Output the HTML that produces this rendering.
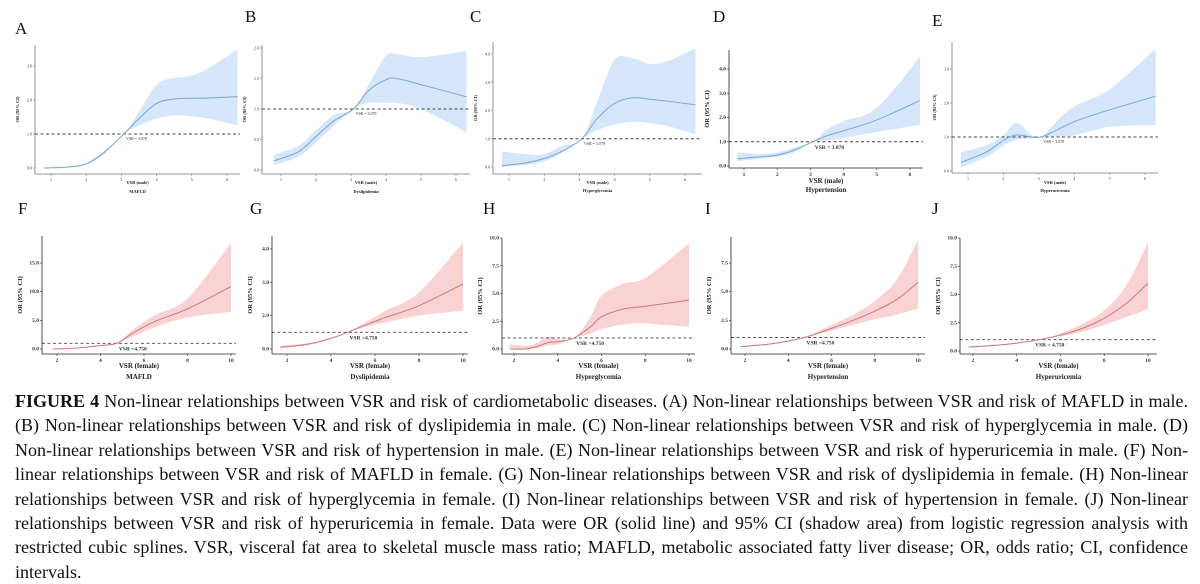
<!DOCTYPE html>
<html><head><meta charset="utf-8">
<style>
html,body{margin:0;padding:0;background:#fff;width:1200px;height:584px;overflow:hidden;}
svg{position:absolute;left:0;top:0;}
#caption{position:absolute;left:15px;top:389px;width:1173px;font-family:"Liberation Serif",serif;font-size:18px;line-height:24.4px;color:#111;}
#caption div{text-align:justify;text-align-last:justify;white-space:nowrap;}
#caption div.last{text-align-last:left;}
</style></head>
<body>
<svg id="fig" width="1200" height="390" viewBox="0 0 1200 390"></svg>
<div id="caption">
<div><b>FIGURE 4</b> Non-linear relationships between VSR and risk of cardiometabolic diseases. (A) Non-linear relationships between VSR and risk of MAFLD in male.</div>
<div>(B) Non-linear relationships between VSR and risk of dyslipidemia in male. (C) Non-linear relationships between VSR and risk of hyperglycemia in male. (D)</div>
<div>Non-linear relationships between VSR and risk of hypertension in male. (E) Non-linear relationships between VSR and risk of hyperuricemia in male. (F) Non-</div>
<div>linear relationships between VSR and risk of MAFLD in female. (G) Non-linear relationships between VSR and risk of dyslipidemia in female. (H) Non-linear</div>
<div>relationships between VSR and risk of hyperglycemia in female. (I) Non-linear relationships between VSR and risk of hypertension in female. (J) Non-linear</div>
<div>relationships between VSR and risk of hyperuricemia in female. Data were OR (solid line) and 95% CI (shadow area) from logistic regression analysis with</div>
<div>restricted cubic splines. VSR, visceral fat area to skeletal muscle mass ratio; MAFLD, metabolic associated fatty liver disease; OR, odds ratio; CI, confidence</div>
<div class="last">intervals.</div>
</div>
<script>
// ---- data arrays ----
const aX=[0.8,1.5,2,2.5,3.07,3.5,4,4.5,5,5.5,6.3];
const aY=[0,0.03,0.12,0.45,1.0,1.45,1.9,2.03,2.05,2.06,2.1];
const aLo=[0,0.02,0.1,0.4,1.0,1.25,1.45,1.55,1.52,1.45,1.25];
const aHi=[0,0.04,0.14,0.5,1.0,1.65,2.45,2.65,2.72,2.95,3.5];
const bX=[0.8,1.5,2,2.5,3.07,3.5,4,4.3,5,6.3];
const bY=[0.15,0.3,0.55,0.8,1.0,1.3,1.48,1.5,1.4,1.2];
const bLo=[0.08,0.22,0.45,0.72,1.0,1.1,1.1,1.1,1.0,0.62];
const bHi=[0.25,0.4,0.65,0.9,1.0,1.4,1.87,1.9,1.85,1.95];
const cX=[0.8,1.5,2,2.5,3.07,3.5,4,4.5,5,5.5,6.3];
const cY=[0.05,0.15,0.3,0.55,1.0,1.7,2.25,2.45,2.4,2.33,2.2];
const cLo=[0.0,0.08,0.2,0.5,1.0,1.3,1.5,1.6,1.55,1.45,1.15];
const cHi=[0.55,0.45,0.45,0.75,1.0,2.3,3.8,3.85,3.65,3.75,4.2];
const dX=[0.8,1.5,2,2.5,3.07,3.5,4,5,6.3];
const dY=[0.3,0.38,0.45,0.65,1.0,1.25,1.45,1.9,2.7];
const dLo=[0.2,0.3,0.38,0.55,1.0,1.05,1.15,1.4,1.7];
const dHi=[0.55,0.5,0.55,0.75,1.0,1.5,1.85,2.4,4.5];
const eX=[0.8,1.5,2,2.3,2.5,2.8,3.07,3.5,4,5,6.3];
const eY=[0.25,0.55,0.9,1.05,1.05,1.0,1.0,1.2,1.45,1.8,2.2];
const eLo=[0.1,0.4,0.75,0.9,0.95,0.97,1.0,1.02,1.05,1.3,1.35];
const eHi=[0.55,0.75,1.05,1.4,1.35,1.05,1.0,1.45,1.9,2.4,3.6];
const fX=[1.8,3,4,4.75,5.5,6.5,8,10];
const fY=[0,0.2,0.6,1.0,2.8,4.8,7.0,10.9];
const fLo=[0,0.15,0.5,1.0,2.2,3.8,5.5,6.5];
const fHi=[0,0.25,0.7,1.0,3.4,5.9,8.8,18.5];
const gX=[1.7,3,4,4.75,5.5,6.5,8,10];
const gY=[1.05,1.15,1.32,1.5,1.7,1.95,2.3,2.95];
const gLo=[1.02,1.12,1.3,1.5,1.65,1.8,2.0,2.15];
const gHi=[1.1,1.18,1.35,1.5,1.78,2.15,2.7,4.2];
const hX=[1.8,2.5,3,3.6,4,4.75,5.5,6,7,8,10];
const hY=[0,0,0.2,0.6,0.65,1.0,2.0,2.9,3.6,3.85,4.4];
const hLo=[0.1,0,0.05,0.35,0.4,1.0,1.4,1.8,2.2,2.3,2.0];
const hHi=[0.4,0.3,0.5,1.1,0.9,1.0,2.9,4.8,5.9,6.4,9.5];
const iX=[1.8,3,4,4.75,6,7,8,9,10];
const iY=[0.2,0.4,0.7,1.0,1.8,2.5,3.3,4.3,5.8];
const iLo=[0.15,0.35,0.65,1.0,1.6,2.1,2.6,3.0,3.5];
const iHi=[0.25,0.45,0.75,1.0,2.1,3.0,4.2,6.0,9.5];
const jX=[1.8,3,4,5,6,7,8,9,10];
const jY=[0.35,0.5,0.7,1.0,1.4,2.0,2.9,4.2,6.0];
const jLo=[0.3,0.45,0.65,1.0,1.3,1.7,2.3,3.0,3.7];
const jHi=[0.4,0.55,0.75,1.0,1.55,2.4,3.6,5.8,9.6];
const maleXTicks=[1,2,3,4,5,6];
const femaleXTicks=[2,4,6,8,10];

// ---- layout (pixel calibration per panel) ----
const panels=[
 {id:'a',L:'A',lx:15,ly:34,ax:35,ab:174,top:45,right:240,x0:1,px0:51,x1:6,px1:227,v0:0,py0:168,v1:3,py1:66,yt:[0,1,2,3],ytl:['0.0','1.0','2.0','3.0'],xt:maleXTicks,ref:1,refTxt:'VSR = 3.078',rx:3.07,X:aX,Y:aY,Lo:aLo,Hi:aHi,sex:'male',dis:'MAFLD',bold:false,t1:184,t2:193},
 {id:'b',L:'B',lx:245,ly:22,ax:262,ab:174,top:45,right:470,x0:1,px0:281,x1:6,px1:456,v0:0,py0:170,v1:2,py1:48,yt:[0,0.5,1,1.5,2],ytl:['0.0','0.5','1.0','1.5','2.0'],xt:maleXTicks,ref:1,refTxt:'VSR = 3.078',rx:3.07,X:bX,Y:bY,Lo:bLo,Hi:bHi,sex:'male',dis:'Dyslipidemia',bold:false,t1:184,t2:193},
 {id:'c',L:'C',lx:470,ly:22,ax:493,ab:174,top:42,right:702,x0:1,px0:509,x1:6,px1:685,v0:0,py0:167,v1:4,py1:54,yt:[0,1,2,3,4],ytl:['0.0','1.0','2.0','3.0','4.0'],xt:maleXTicks,ref:1,refTxt:'VSR = 3.078',rx:3.07,X:cX,Y:cY,Lo:cLo,Hi:cHi,sex:'male',dis:'Hyperglycemia',bold:false,t1:184,t2:192},
 {id:'d',L:'D',lx:713,ly:22,ax:729,ab:168,top:50,right:923,x0:1,px0:744,x1:6,px1:910,v0:0,py0:166,v1:4,py1:69,yt:[0,1,2,3,4],ytl:['0.0','1.0','2.0','3.0','4.0'],xt:maleXTicks,ref:1,refTxt:'VSR = 3.078',rx:3.07,X:dX,Y:dY,Lo:dLo,Hi:dHi,sex:'male',dis:'Hypertension',bold:true,t1:183,t2:192},
 {id:'e',L:'E',lx:932,ly:26,ax:952,ab:173,top:42,right:1158,x0:1,px0:968,x1:6,px1:1145,v0:0,py0:171,v1:3,py1:69,yt:[0,1,2,3],ytl:['0.0','1.0','2.0','3.0'],xt:maleXTicks,ref:1,refTxt:'VSR = 3.078',rx:3.07,X:eX,Y:eY,Lo:eLo,Hi:eHi,sex:'male',dis:'Hyperuricemia',bold:false,t1:184,t2:192},
 {id:'f',L:'F',lx:18,ly:214,ax:42,ab:354,top:236,right:236,x0:2,px0:57,x1:10,px1:231,v0:0,py0:349,v1:15,py1:263,yt:[0,5,10,15],ytl:['0.0','5.0','10.0','15.0'],xt:femaleXTicks,ref:1,refTxt:'VSR =4.750',rx:4.75,X:fX,Y:fY,Lo:fLo,Hi:fHi,sex:'female',dis:'MAFLD',bold:true,t1:368,t2:379},
 {id:'g',L:'G',lx:250,ly:214,ax:272,ab:354,top:236,right:468,x0:2,px0:287,x1:10,px1:463,v0:1,py0:349,v1:4,py1:249,yt:[1,2,3,4],ytl:['0.0','2.0','3.0','4.0'],xt:femaleXTicks,ref:1.5,refTxt:'VSR =4.750',rx:4.75,X:gX,Y:gY,Lo:gLo,Hi:gHi,sex:'female',dis:'Dyslipidemia',bold:true,t1:368,t2:379},
 {id:'h',L:'H',lx:483,ly:214,ax:502,ab:354,top:238,right:695,x0:2,px0:514,x1:10,px1:689,v0:0,py0:349,v1:10,py1:238,yt:[0,2.5,5,7.5,10],ytl:['0.0','2.5','5.0','7.5','10.0'],xt:femaleXTicks,ref:1,refTxt:'VSR =4.750',rx:4.75,X:hX,Y:hY,Lo:hLo,Hi:hHi,sex:'female',dis:'Hyperglycemia',bold:true,t1:368,t2:379},
 {id:'i',L:'I',lx:705,ly:214,ax:731,ab:354,top:237,right:925,x0:2,px0:745,x1:10,px1:918,v0:0,py0:349,v1:7.5,py1:263,yt:[0,2.5,5,7.5],ytl:['0.0','2.5','5.0','7.5'],xt:femaleXTicks,ref:1,refTxt:'VSR =4.750',rx:4.75,X:iX,Y:iY,Lo:iLo,Hi:iHi,sex:'female',dis:'Hypertension',bold:true,t1:368,t2:379},
 {id:'j',L:'J',lx:932,ly:214,ax:960,ab:354,top:238,right:1157,x0:2,px0:973,x1:10,px1:1148,v0:0,py0:351,v1:10,py1:238,yt:[0,2.5,5,7.5,10],ytl:['0.0','2.5','5.0','7.5','10.0'],xt:femaleXTicks,ref:1,refTxt:'VSR = 4.750',rx:4.75,X:jX,Y:jY,Lo:jLo,Hi:jHi,sex:'female',dis:'Hyperuricemia',bold:true,t1:368,t2:379}
];
const NS='http://www.w3.org/2000/svg';
const svg=document.getElementById('fig');
function mk(tag,attrs,parent){const e=document.createElementNS(NS,tag);for(const k in attrs)e.setAttribute(k,attrs[k]);(parent||svg).appendChild(e);return e;}
function smooth(pts){
 let d='M'+pts[0][0].toFixed(2)+','+pts[0][1].toFixed(2);
 for(let i=0;i<pts.length-1;i++){
  const p0=pts[Math.max(0,i-1)],p1=pts[i],p2=pts[i+1],p3=pts[Math.min(pts.length-1,i+2)];
  const c1=[p1[0]+(p2[0]-p0[0])/6,p1[1]+(p2[1]-p0[1])/6],c2=[p2[0]-(p3[0]-p1[0])/6,p2[1]-(p3[1]-p1[1])/6];
  d+=' C'+c1[0].toFixed(2)+','+c1[1].toFixed(2)+' '+c2[0].toFixed(2)+','+c2[1].toFixed(2)+' '+p2[0].toFixed(2)+','+p2[1].toFixed(2);
 }
 return d;
}
panels.forEach(p=>{
 const sx=v=>p.px0+(v-p.x0)*(p.px1-p.px0)/(p.x1-p.x0);
 const sy=v=>p.py0+(v-p.v0)*(p.py1-p.py0)/(p.v1-p.v0);
 const male=p.sex==='male';
 const band=male?'#d5e6fa':'#f9d3d3', line=male?'#7aa6cc':'#c97a7a';
 const g=mk('g',{});
 
 
 const lab=mk('text',{x:p.lx,y:p.ly,'font-family':'Liberation Serif, serif','font-size':17,fill:'#111'},g);
 lab.textContent=p.L;
 
 
 const up=p.X.map((x,i)=>[sx(x),sy(p.Hi[i])]);
 const dn=p.X.map((x,i)=>[sx(x),sy(p.Lo[i])]).reverse();
 let bd=smooth(up)+' L'+dn[0][0].toFixed(2)+','+dn[0][1].toFixed(2)+smooth(dn).replace(/^M[^C]*/,' ')+' Z';
 const ci=mk('path',{d:bd,fill:band,stroke:'none'},g);
 
 
 const rl=mk('line',{x1:p.ax,x2:p.right,y1:sy(p.ref),y2:sy(p.ref),stroke:'#444','stroke-width':0.9,'stroke-dasharray':'3,2.5'},g);
 
 
 const rt=mk('text',{x:sx(p.rx)+2,y:sy(p.ref)+(p.bold?7:6),'font-family':'Liberation Serif, serif','font-size':p.bold?5.5:4,'font-weight':p.bold?'bold':'normal',fill:'#333'},g);
 rt.textContent=p.refTxt;
 
 
 const ol=mk('path',{d:smooth(p.X.map((x,i)=>[sx(x),sy(p.Y[i])])),fill:'none',stroke:line,'stroke-width':1},g);
 
 
 const axc=p.bold?'#222':'#777', fs=p.bold?5.5:4, fw=p.bold?'bold':'normal';
 const ya=mk('line',{x1:p.ax,x2:p.ax,y1:p.top,y2:p.ab,stroke:axc,'stroke-width':0.8},g);
 
 
 const xa=mk('line',{x1:p.ax,x2:p.right,y1:p.ab,y2:p.ab,stroke:axc,'stroke-width':0.8},g);
 
 
 p.yt.forEach((v,i)=>{
  mk('line',{x1:p.ax-2,x2:p.ax,y1:sy(v),y2:sy(v),stroke:axc,'stroke-width':0.6},g);
  const t=mk('text',{x:p.ax-3,y:sy(v)+1.5,'text-anchor':'end','font-family':'Liberation Serif, serif','font-size':fs,'font-weight':fw,fill:'#333'},g);
  t.textContent=p.ytl[i];
  
  
 });
 p.xt.forEach(v=>{
  mk('line',{x1:sx(v),x2:sx(v),y1:p.ab,y2:p.ab+2,stroke:axc,'stroke-width':0.6},g);
  const t=mk('text',{x:sx(v),y:p.ab+(p.bold?8:7),'text-anchor':'middle','font-family':'Liberation Serif, serif','font-size':fs,'font-weight':fw,fill:'#333'},g);
  t.textContent=String(v);
  
  
 });
 const cx=(p.ax+p.right)/2;
 const tfs=p.bold?7:4.5;
 const xt=mk('text',{x:cx,y:p.t1,'text-anchor':'middle','font-family':'Liberation Serif, serif','font-size':tfs,'font-weight':'bold',fill:'#222'},g);
 xt.textContent='VSR ('+p.sex+')';
 
 
 const dt=mk('text',{x:cx,y:p.t2,'text-anchor':'middle','font-family':'Liberation Serif, serif','font-size':tfs,'font-weight':'bold',fill:'#222'},g);
 dt.textContent=p.dis;
 
 
 const ym=(p.top+p.ab)/2, yx=p.ax-(p.bold?20:16);
 const yt=mk('text',{x:yx,y:ym,'text-anchor':'middle','font-family':'Liberation Serif, serif','font-size':p.bold?6.5:4.5,'font-weight':'bold',fill:'#222',transform:'rotate(-90 '+yx+' '+ym+')'},g);
 yt.textContent='OR (95% CI)';
 
 
});
</script>
</body></html>
